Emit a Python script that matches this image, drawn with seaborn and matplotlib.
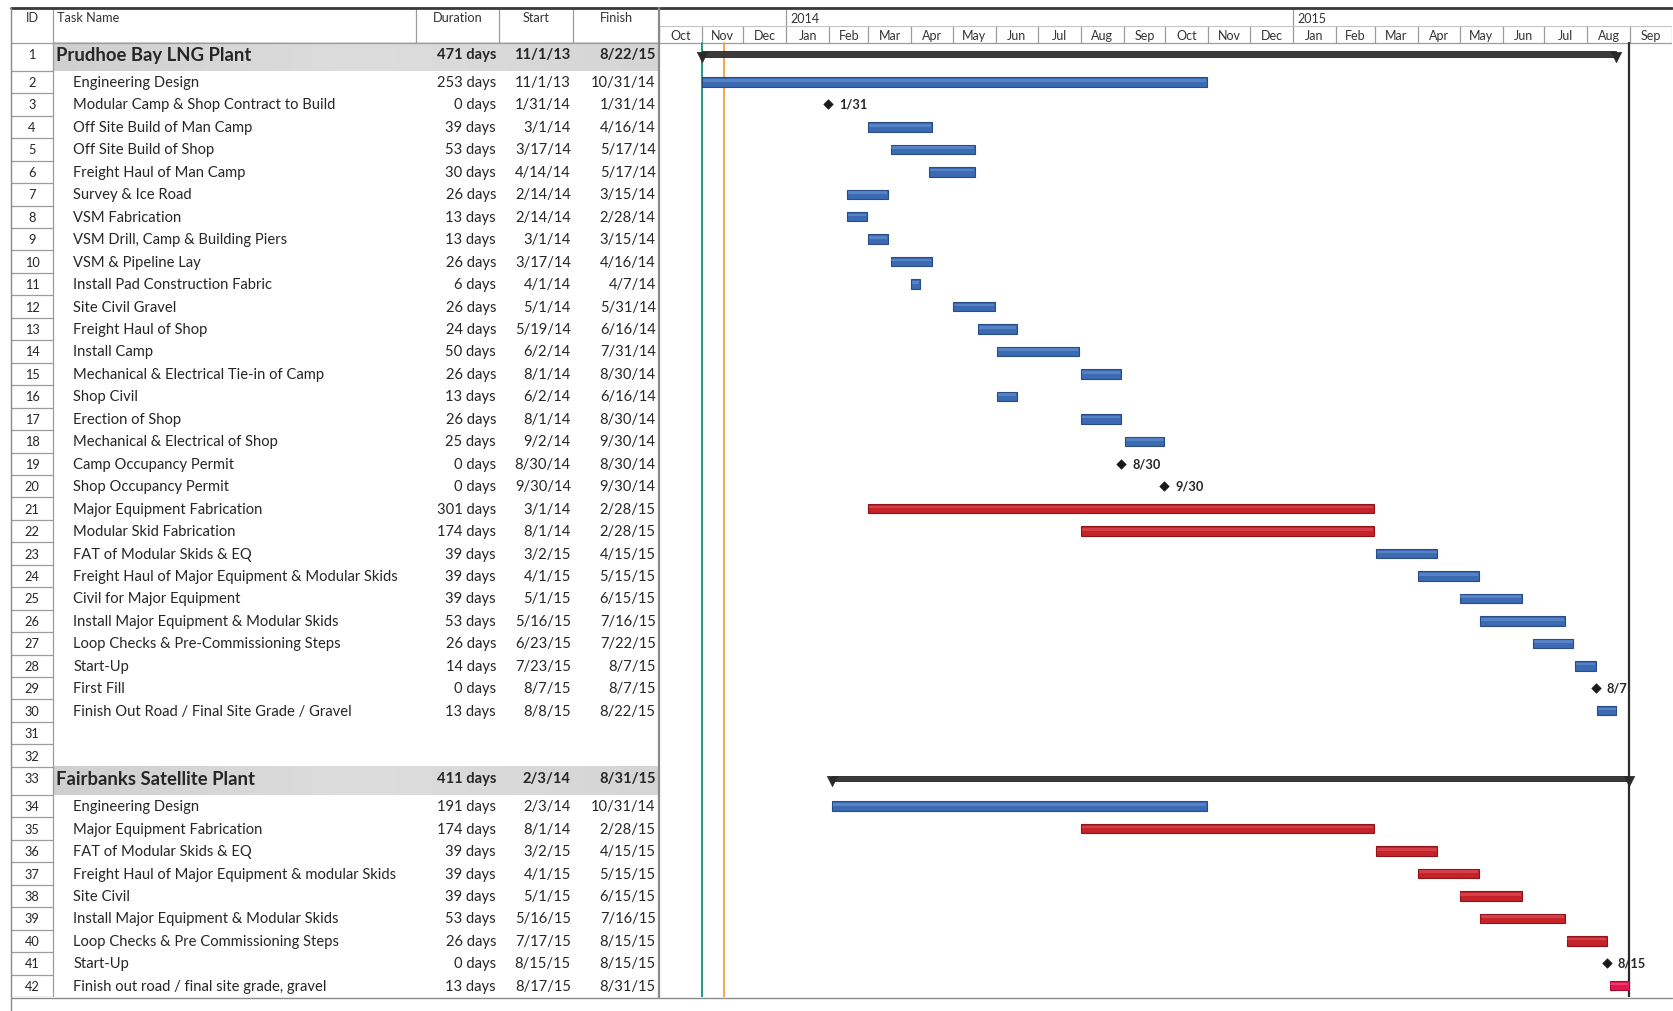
import numpy as np
import pandas as pd
import matplotlib
matplotlib.use("Agg")
import matplotlib.pyplot as plt
import matplotlib.dates as mdates
from matplotlib.lines import Line2D
import seaborn as sns

sns.set_theme(style="white")
plt.rcParams['font.family'] = ['Lato', 'DejaVu Sans']

# ---------------------------------------------------------------- schedule data
task_ids = list(range(1, 43))
task_names = [
    "Prudhoe Bay LNG Plant",
    "Engineering Design",
    "Modular Camp & Shop Contract to Build",
    "Off Site Build of Man Camp",
    "Off Site Build of Shop",
    "Freight Haul of Man Camp",
    "Survey & Ice Road",
    "VSM Fabrication",
    "VSM Drill, Camp & Building Piers",
    "VSM & Pipeline Lay",
    "Install Pad Construction Fabric",
    "Site Civil Gravel",
    "Freight Haul of Shop",
    "Install Camp",
    "Mechanical & Electrical Tie-in of Camp",
    "Shop Civil",
    "Erection of Shop",
    "Mechanical & Electrical of Shop",
    "Camp Occupancy Permit",
    "Shop Occupancy Permit",
    "Major Equipment Fabrication",
    "Modular Skid Fabrication",
    "FAT of Modular Skids & EQ",
    "Freight Haul of Major Equipment & Modular Skids",
    "Civil for Major Equipment",
    "Install Major Equipment & Modular Skids",
    "Loop Checks & Pre-Commissioning Steps",
    "Start-Up",
    "First Fill",
    "Finish Out Road / Final Site Grade / Gravel",
    "",
    "",
    "Fairbanks Satellite Plant",
    "Engineering Design",
    "Major Equipment Fabrication",
    "FAT of Modular Skids & EQ",
    "Freight Haul of Major Equipment & modular Skids",
    "Site Civil",
    "Install Major Equipment & Modular Skids",
    "Loop Checks & Pre Commissioning Steps",
    "Start-Up",
    "Finish out road / final site grade, gravel",
]
durations = [
    "471 days", "253 days", "0 days", "39 days", "53 days", "30 days", "26 days",
    "13 days", "13 days", "26 days", "6 days", "26 days", "24 days", "50 days",
    "26 days", "13 days", "26 days", "25 days", "0 days", "0 days", "301 days",
    "174 days", "39 days", "39 days", "39 days", "53 days", "26 days", "14 days",
    "0 days", "13 days", "", "", "411 days", "191 days", "174 days", "39 days",
    "39 days", "39 days", "53 days", "26 days", "0 days", "13 days",
]
starts = [
    "11/1/13", "11/1/13", "1/31/14", "3/1/14", "3/17/14", "4/14/14", "2/14/14",
    "2/14/14", "3/1/14", "3/17/14", "4/1/14", "5/1/14", "5/19/14", "6/2/14",
    "8/1/14", "6/2/14", "8/1/14", "9/2/14", "8/30/14", "9/30/14", "3/1/14",
    "8/1/14", "3/2/15", "4/1/15", "5/1/15", "5/16/15", "6/23/15", "7/23/15",
    "8/7/15", "8/8/15", "", "", "2/3/14", "2/3/14", "8/1/14", "3/2/15",
    "4/1/15", "5/1/15", "5/16/15", "7/17/15", "8/15/15", "8/17/15",
]
finishes = [
    "8/22/15", "10/31/14", "1/31/14", "4/16/14", "5/17/14", "5/17/14", "3/15/14",
    "2/28/14", "3/15/14", "4/16/14", "4/7/14", "5/31/14", "6/16/14", "7/31/14",
    "8/30/14", "6/16/14", "8/30/14", "9/30/14", "8/30/14", "9/30/14", "2/28/15",
    "2/28/15", "4/15/15", "5/15/15", "6/15/15", "7/16/15", "7/22/15", "8/7/15",
    "8/7/15", "8/22/15", "", "", "8/31/15", "10/31/14", "2/28/15", "4/15/15",
    "5/15/15", "6/15/15", "7/16/15", "8/15/15", "8/15/15", "8/31/15",
]
# summary / task / milestone / blank
row_kinds = (["summary", "task", "milestone"] + ["task"] * 15 + ["milestone", "milestone"]
             + ["task"] * 8 + ["milestone", "task", "blank", "blank", "summary"]
             + ["task"] * 7 + ["milestone", "task"])
bar_groups = (["", "blue", ""] + ["blue"] * 15 + ["", ""] + ["red", "red"]
              + ["blue"] * 6 + ["", "blue", "", "", ""] + ["blue"] + ["red"] * 6
              + ["", "crimson"])

month_names = ["Jan", "Feb", "Mar", "Apr", "May", "Jun",
               "Jul", "Aug", "Sep", "Oct", "Nov", "Dec"]
timeline_start = "2013-10-01"
timeline_end = "2015-10-01"
project_start_line = "2013-11-01"
status_line = "2013-11-17"
deadline_line = "2015-08-31"

# ---------------------------------------------------------------- styling
FACE = {"blue": "#3C6AB3", "red": "#C62229", "crimson": "#E2174E"}
EDGE = {"blue": "#284C86", "red": "#8F1419", "crimson": "#A40D35"}
SHINE = {"blue": "#6D97D6", "red": "#E35A5E", "crimson": "#F0608A"}
TXT = "#262626"
GRID = "#9c9c9c"
BODY_FS = 10.6

# ---------------------------------------------------------------- geometry
W_PX, H_PX = 1674, 1012
TL, SPLIT, RIGHT = 10.7, 658.7, 1672.0
TOP, BOTTOM = 8.5, 998.0
YEAR_ROW, HEADER = 0.81, 1.57

heights = np.array([1.25 if k == "summary" else 1.0 for k in row_kinds])
row_top = HEADER + np.concatenate([[0], np.cumsum(heights)[:-1]])
row_bot = row_top + heights
row_mid = (row_top + row_bot) / 2
text_y = np.where(np.array(row_kinds) == "summary", row_mid - 0.12, row_mid)
TOTAL = row_bot[-1]

fig = plt.figure(figsize=(W_PX / 100, H_PX / 100), dpi=100)
fig.patch.set_facecolor("white")

axb = (H_PX - BOTTOM) / H_PX
axh = (BOTTOM - TOP) / H_PX
ax_t = fig.add_axes([TL / W_PX, axb, (SPLIT - TL) / W_PX, axh])
ax_g = fig.add_axes([SPLIT / W_PX, axb, (RIGHT - SPLIT) / W_PX, axh])

TW = SPLIT - TL
ax_t.set_xlim(0, TW)
for ax in (ax_t, ax_g):
    ax.set_ylim(TOTAL, 0)
    ax.set_axis_off()

# ---------------------------------------------------------------- table side
X_ID, X_NAME, X_DUR, X_START, X_FIN = 42.7, 405.7, 487.9, 562.6, TW

# summary row shading
band_cmap = matplotlib.colors.LinearSegmentedColormap.from_list(
    "band", ["#cfcfcf", "#dddddd", "#d5d5d5"])
for i, k in enumerate(row_kinds):
    if k == "summary":
        grad = np.linspace(0, 1, 256)[None, :]
        ax_t.imshow(grad, extent=(X_ID, X_FIN, row_bot[i], row_top[i]),
                    cmap=band_cmap, aspect="auto", zorder=0)

# header texts
hdr_y = 0.42
hdr = dict(va="center", fontsize=9.2, color="#333")
ax_t.text(X_ID / 2, hdr_y, "ID", ha="center", **hdr)
ax_t.text(X_ID + 3.5, hdr_y, "Task Name", ha="left", **hdr)
ax_t.text((X_NAME + X_DUR) / 2, hdr_y, "Duration", ha="center", **hdr)
ax_t.text((X_DUR + X_START) / 2, hdr_y, "Start", ha="center", **hdr)
ax_t.text((X_START + X_FIN) / 2, hdr_y, "Finish", ha="center", **hdr)

for x in (X_ID, X_NAME, X_DUR, X_START):
    ax_t.plot([x, x], [0, HEADER], color=GRID, lw=0.9)
ax_t.plot([0, TW], [HEADER, HEADER], color=GRID, lw=0.9)
ax_t.plot([X_ID, X_ID], [HEADER, TOTAL], color=GRID, lw=0.9)
for yb in row_bot:
    ax_t.plot([0, X_ID], [yb, yb], color=GRID, lw=0.9)
ax_t.plot([X_FIN - 1, X_FIN - 1], [HEADER, TOTAL], color="#b5b5b5", lw=0.8, ls=(0, (2, 2)))

# rows
for i, k in enumerate(row_kinds):
    y = text_y[i]
    ax_t.text(X_ID / 2, y, str(task_ids[i]), ha="center", va="center", fontsize=9.2, color=TXT)
    if k == "blank":
        continue
    if k == "summary":
        ax_t.text(X_ID + 3, y, task_names[i], ha="left", va="center", fontsize=13.3,
                  fontweight="bold", color=TXT)
        kw = dict(fontweight="bold", fontsize=BODY_FS)
    else:
        ax_t.text(X_ID + 20, y, task_names[i], ha="left", va="center", fontsize=BODY_FS,
                  color=TXT)
        kw = dict(fontsize=BODY_FS)
    ax_t.text(X_DUR - 2.5, y, durations[i], ha="right", va="center", color=TXT, **kw)
    ax_t.text(X_START - 2.5, y, starts[i], ha="right", va="center", color=TXT, **kw)
    ax_t.text(X_FIN - 3, y, finishes[i], ha="right", va="center", color=TXT, **kw)

# ---------------------------------------------------------------- Gantt side
t0 = mdates.date2num(pd.Timestamp(timeline_start))
t1 = mdates.date2num(pd.Timestamp(timeline_end))
ax_g.set_xlim(t0, t1)

months = pd.date_range(timeline_start, timeline_end, freq="MS")
for a, b in zip(months[:-1], months[1:]):
    xa, xb = mdates.date2num(a), mdates.date2num(b)
    ax_g.text((xa + xb) / 2, (YEAR_ROW + HEADER) / 2 + 0.02, month_names[a.month - 1],
              ha="center", va="center", fontsize=9, color="#333")
    ax_g.plot([xa, xa], [YEAR_ROW, HEADER], color=GRID, lw=0.9)
    if a.month == 1:
        ax_g.plot([xa, xa], [0, YEAR_ROW], color=GRID, lw=0.9)
        ax_g.text(xa + 3, YEAR_ROW * 0.55, str(a.year), ha="left", va="center",
                  fontsize=9, color="#333")
ax_g.plot([t1, t1], [YEAR_ROW, HEADER], color=GRID, lw=0.9)
ax_g.plot([t0, t1], [YEAR_ROW, YEAR_ROW], color="#c4c4c4", lw=0.8)
ax_g.plot([t0, t1], [HEADER, HEADER], color=GRID, lw=0.9)

frame = pd.DataFrame({
    "row": task_ids,
    "kind": row_kinds,
    "group": bar_groups,
    "start": pd.to_datetime(starts, format="%m/%d/%y", errors="coerce"),
    "finish": pd.to_datetime(finishes, format="%m/%d/%y", errors="coerce"),
    "y": text_y,
    "mid": row_mid,
})
frame["x0"] = frame["start"].map(lambda d: mdates.date2num(d) if pd.notna(d) else np.nan)
frame["x1"] = frame["finish"].map(lambda d: mdates.date2num(d) if pd.notna(d) else np.nan)

# vertical marker lines
for d, c, lw in ((project_start_line, "#1F9A86", 1.4), (status_line, "#F2A03D", 1.3),
                 (deadline_line, "#2b2b2b", 1.6)):
    xd = mdates.date2num(pd.Timestamp(d))
    ax_g.plot([xd, xd], [HEADER, TOTAL], color=c, lw=lw, zorder=4)

# task bars
BAR_H = 0.42
tasks = frame[frame["kind"] == "task"]
for g, sub in tasks.groupby("group"):
    ax_g.barh(sub["mid"], sub["x1"] - sub["x0"], left=sub["x0"], height=BAR_H,
              color=FACE[g], edgecolor=EDGE[g], linewidth=0.8, zorder=5)
    ax_g.barh(sub["mid"] - BAR_H * 0.18, sub["x1"] - sub["x0"] - 1.2, left=sub["x0"] + 0.6,
              height=BAR_H * 0.28, color=SHINE[g], linewidth=0, alpha=0.55, zorder=6)

# summary bars with down-pointing end caps
summ = frame[frame["kind"] == "summary"]
ax_g.barh(summ["y"], summ["x1"] - summ["x0"], left=summ["x0"], height=0.24,
          color="#3a3a3a", edgecolor="#222", linewidth=0.6, zorder=5)
caps = pd.DataFrame({"x": np.concatenate([summ["x0"], summ["x1"]]),
                     "y": np.concatenate([summ["y"], summ["y"]]) + 0.12})
sns.scatterplot(data=caps, x="x", y="y", marker="v", s=55, color="#2a2a2a",
                edgecolor="#2a2a2a", linewidth=0.5, ax=ax_g, zorder=6, legend=False)

# milestones
miles = frame[frame["kind"] == "milestone"]
sns.scatterplot(data=miles, x="x0", y="mid", marker="D", s=24, color="#1a1a1a",
                edgecolor="#1a1a1a", ax=ax_g, zorder=7, legend=False)
for _, r in miles.iterrows():
    ax_g.annotate(f"{r['start'].month}/{r['start'].day}", (r["x0"], r["mid"]),
                  xytext=(8, 0.5), textcoords="offset points", ha="left", va="center",
                  fontsize=9.2, fontweight="bold", color=TXT, zorder=8)

ax_g.set_xlim(t0, t1)
ax_g.set_ylim(TOTAL, 0)
ax_g.set_xlabel("")
ax_g.set_ylabel("")
ax_g.set_axis_off()

# ---------------------------------------------------------------- outer frame
def fig_line(x0, y0, x1, y1, **kw):
    fig.add_artist(Line2D([x0 / W_PX, x1 / W_PX], [1 - y0 / H_PX, 1 - y1 / H_PX],
                          transform=fig.transFigure, **kw))

fig_line(TL, TOP, RIGHT, TOP, color="#3a3a3a", lw=2.0)
fig_line(TL, TOP, TL, H_PX, color="#8a8a8a", lw=1.0)
fig_line(SPLIT, TOP, SPLIT, BOTTOM, color="#8a8a8a", lw=1.6)
fig_line(TL, BOTTOM + 1, RIGHT, BOTTOM + 1, color="#8a8a8a", lw=1.0)

fig.savefig("out.png", dpi=100, facecolor="white")
